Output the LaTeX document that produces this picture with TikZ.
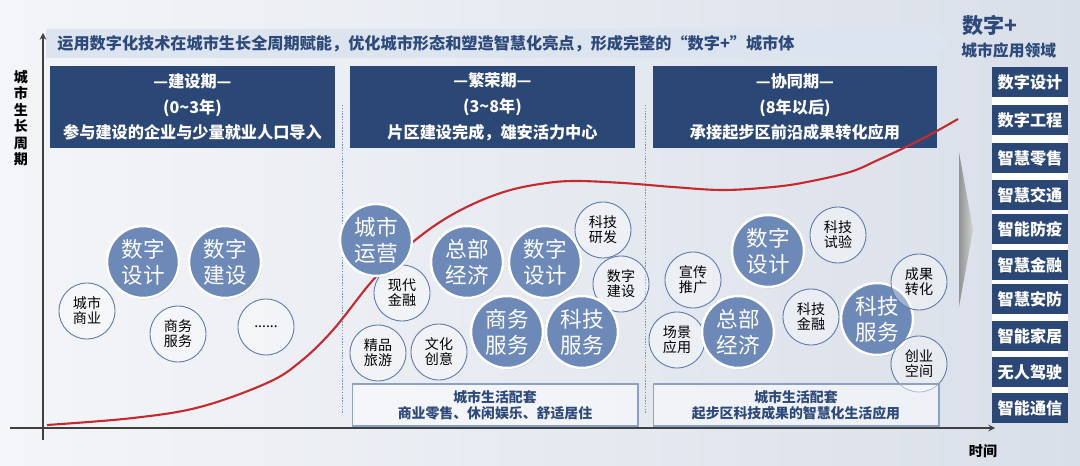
\documentclass[tikz,border=0pt]{standalone}
\usepackage{fontspec}
\setmainfont{Noto Sans CJK SC}
\usetikzlibrary{shadows}
\definecolor{navy}{HTML}{2B4776}
\definecolor{deepblue}{HTML}{2D4A7B}
\definecolor{bubble}{HTML}{6C89B8}
\definecolor{ring}{HTML}{5B79AD}
\definecolor{growth}{HTML}{C62A2F}
\definecolor{bannerbg}{HTML}{DCE4EF}
\definecolor{bgleft}{HTML}{F4F5F8}
\definecolor{bgright}{HTML}{D9DFE9}

\begin{document}
\begin{tikzpicture}[x=0.02cm,y=-0.02cm,>=stealth,
    head/.style={fill=navy,text=white,font=\bfseries\fontsize{9.2}{14.7}\selectfont,minimum width=5.7cm,minimum height=1.64cm,align=center,inner sep=0pt},
    big/.style={circle,draw=white,line width=1.4pt,fill=bubble,minimum size=1.44cm,inner sep=0pt,align=center,text=white,font=\fontsize{12.3}{15}\selectfont,drop shadow={opacity=0.35,shadow xshift=0.6pt,shadow yshift=-0.8pt}},
    small/.style={circle,draw=ring,line width=0.5pt,fill=white,fill opacity=0.35,text opacity=1,minimum size=1.12cm,inner sep=0pt,align=center,font=\fontsize{8}{8.6}\selectfont},
    panel/.style={draw=ring!70,line width=0.6pt,fill=white,fill opacity=0.5,text opacity=1,text=deepblue,font=\bfseries\fontsize{7.9}{9}\selectfont,minimum width=5.72cm,minimum height=0.84cm,align=center,inner sep=0pt},
    app/.style={fill=navy,text=white,font=\bfseries\fontsize{9.2}{10}\selectfont,minimum width=1.52cm,minimum height=0.6cm,inner sep=0pt},
    sep/.style={draw=ring!80,line width=0.5pt,dash pattern=on 0.8pt off 0.8pt},
    axis/.style={draw=black!75,line width=0.7pt,->}]
    \useasboundingbox (0,0) rectangle (1080,466);
    \shade[left color=bgleft,right color=bgright] (0,0) rectangle (1080,466);

    \fill[bannerbg] (46,29) -- (933,29) -- (948,43.5) -- (933,58) -- (46,58) -- cycle;
    \node (banner) [anchor=west,text=deepblue,font=\bfseries\fontsize{9.2}{10}\selectfont,inner sep=0pt] at (57,44) {运用数字化技术在城市生长全周期赋能，优化城市形态和塑造智慧化亮点，形成完整的“数字+”城市体};

    \coordinate (ybot) at (43,440);
    \coordinate (ytop) at (43,33);
    \coordinate (xleft) at (10,428);
    \coordinate (xright) at (995,428);
    \draw[axis] (ybot) -- (ytop);
    \draw[axis] (xleft) -- (xright);
    \node (ylabel) [align=center,font=\bfseries\fontsize{8}{9.4}\selectfont] at (21,118) {城\\市\\生\\长\\周\\期};
    \node (xlabel) [font=\bfseries\fontsize{8}{9}\selectfont] at (983,451) {时间};

    \node (build) [head] at (192.5,107) {—建设期—\\(0\textasciitilde 3年)\\参与建设的企业与少量就业人口导入};
    \node (boom) [head] at (492.5,107) {—繁荣期—\\(3\textasciitilde 8年)\\片区建设完成，雄安活力中心};
    \node (synergy) [head] at (795,107) {—协同期—\\(8年以后)\\承接起步区前沿成果转化应用};

    \draw[sep] (342,105) -- (342,413);
    \draw[sep] (645,105) -- (645,413);

    \draw[growth,line width=1.2pt] plot[smooth,tension=0.6] coordinates {(47,425) (133,418) (200,407) (267,383) (300,362) (333,330) (373,280) (407,247) (440,222) (473,204) (507,191) (540,184) (573,181) (623,183) (673,187) (723,190) (773,187) (807,182) (850,172) (878,160) (910,145) (935,132) (958,119)};

    \node (s1) [small] at (87,311) {城市\\商业};
    \node (b1) [big] at (143,262) {数字\\设计};
    \node (b2) [big] at (225,262) {数字\\建设};
    \node (s2) [small] at (178,334) {商务\\服务};
    \node (s3) [small] at (266,327) {......};

    \node (s4) [small] at (402,293) {现代\\金融};
    \node (b3) [big] at (376,240) {城市\\运营};
    \node (b4) [big] at (467,262) {总部\\经济};
    \node (b5) [big] at (545,262) {数字\\设计};
    \node (s5) [small] at (603,230) {科技\\研发};
    \node (s6) [small] at (621,284) {数字\\建设};
    \node (s7) [small] at (378,353) {精品\\旅游};
    \node (s8) [small] at (439,352) {文化\\创意};
    \node (b6) [big] at (507,332) {商务\\服务};
    \node (b7) [big] at (582,332) {科技\\服务};
    \node (p1) [panel] at (495,405) {城市生活配套\\商业零售、休闲娱乐、舒适居住};

    \node (s9) [small] at (838,235) {科技\\试验};
    \node (s10) [small] at (693,280) {宣传\\推广};
    \node (s11) [small] at (677,340) {场景\\应用};
    \node (s12) [small] at (811,317) {科技\\金融};
    \node (b8) [big] at (768,251) {数字\\设计};
    \node (b9) [big] at (738,332) {总部\\经济};
    \node (b10) [big] at (877,319) {科技\\服务};
    \node (s13) [small] at (919,282) {成果\\转化};
    \node (s14) [small] at (919,364) {创业\\空间};
    \node (p2) [panel] at (796,405) {城市生活配套\\起步区科技成果的智慧化生活应用};

    \node (plus) [anchor=west,text=deepblue,font=\bfseries\fontsize{12}{13}\selectfont,inner sep=0pt] at (962,25) {数字+};
    \node (field) [anchor=west,text=deepblue,font=\bfseries\fontsize{9}{10}\selectfont,inner sep=0pt] at (961,50) {城市应用领域};
    \shade[left color=gray!85,right color=gray!35] (959,152) -- (973,230) -- (959,307) -- cycle;
    \fill[white] (992,67) rectangle (1068,423);
    \node (a1) [app] at (1030,82) {数字设计};
    \node (a2) [app] at (1030,120) {数字工程};
    \node (a3) [app] at (1030,158) {智慧零售};
    \node (a4) [app] at (1030,195) {智慧交通};
    \node (a5) [app] at (1030,229) {智能防疫};
    \node (a6) [app] at (1030,265) {智慧金融};
    \node (a7) [app] at (1030,299) {智慧安防};
    \node (a8) [app] at (1030,336) {智能家居};
    \node (a9) [app] at (1030,372) {无人驾驶};
    \node (a10) [app] at (1030,408) {智能通信};
\end{tikzpicture}
\end{document}
